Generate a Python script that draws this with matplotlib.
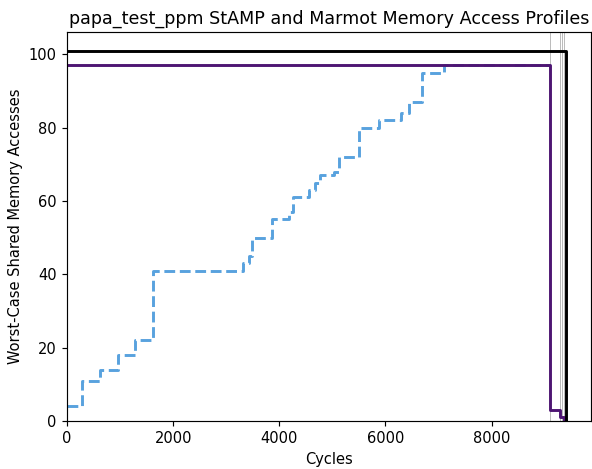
import numpy as np
import matplotlib
matplotlib.use("Agg")
import matplotlib.pyplot as plt

# --- DATA ---
stamp_cycles = [0, 277, 623, 968, 1283, 1629, 3315, 3424, 3483, 3862, 4179, 4248,
                4553, 4679, 4760, 5025, 5119, 5496, 5873, 6283, 6440, 6692, 7100, 9090]
stamp_accesses = [4, 11, 14, 18, 22, 41, 43, 45, 50, 55, 57, 61,
                  63, 65, 67, 68, 72, 80, 82, 84, 87, 95, 97, 97]

marmot_cycles = [0, 9090, 9290, 9360, 9396]
marmot_accesses = [97, 3, 1, 0, 0]

bound_cycles = [0, 9396, 9396]
bound_accesses = [101, 101, 0]

marker_cycles = [9090, 9290, 9320, 9360]

title = "papa_test_ppm StAMP and Marmot Memory Access Profiles"

# --- PLOT ---
DPI = 105
fig, ax = plt.subplots(figsize=(592 / DPI, 469 / DPI), dpi=DPI)
fig.subplots_adjust(left=0.1132, right=0.9978, bottom=0.1023, top=0.9318)

for c in marker_cycles:
    ax.axvline(c, color="gray", lw=0.6, alpha=0.6)

ax.step(stamp_cycles, stamp_accesses, where="post", color="#58a2de",
        lw=2, linestyle="--")
ax.step(marmot_cycles, marmot_accesses, where="post", color="#4e1573", lw=2)
ax.plot(bound_cycles, bound_accesses, color="black", lw=2)

ax.set_xlim(left=0)
ax.set_ylim(bottom=0)

ax.set_title(title, fontsize=12)
ax.set_xlabel("Cycles", fontsize=10)
ax.set_ylabel("Worst-Case Shared Memory Accesses", fontsize=10)

fig.savefig("out.png", dpi=DPI)
